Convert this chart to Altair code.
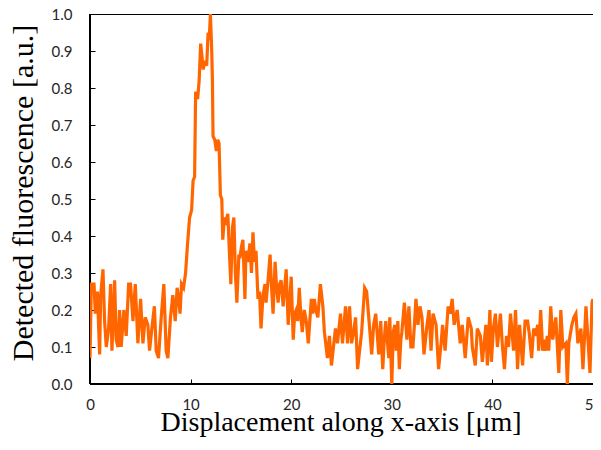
import altair as alt
import pandas as pd

x_um = [0.0, 0.13, 0.4, 0.53, 0.73, 0.96, 1.06, 1.29, 1.45, 1.62, 1.85, 2.05, 2.18, 2.45, 2.6, 2.78, 2.94, 3.1, 3.37, 3.6,
        3.84, 4.03, 4.27, 4.5, 4.76, 5.03, 5.26, 5.49, 5.75, 5.92, 6.15, 6.4, 6.58, 6.81, 7.08, 7.34, 7.57, 7.74, 8.0, 8.23,
        8.47, 8.66, 8.85, 8.95, 9.1, 9.3, 9.5, 9.7, 9.9, 10.1, 10.25, 10.4, 10.5, 10.7, 10.85, 11.0, 11.15, 11.25, 11.4, 11.5,
        11.6, 11.74, 11.85, 11.97, 12.1, 12.17, 12.23, 12.4, 12.56, 12.7, 12.83, 12.96, 13.1, 13.2, 13.35, 13.5, 13.7, 13.85, 14.0, 14.15,
        14.3, 14.45, 14.6, 14.8, 14.9, 15.05, 15.2, 15.4, 15.5, 15.7, 15.9, 16.05, 16.2, 16.35, 16.5, 16.7, 16.85, 17.0, 17.2, 17.4,
        17.5, 17.7, 17.9, 18.05, 18.2, 18.4, 18.55, 18.7, 18.85, 19.0, 19.2, 19.35, 19.5, 19.7, 19.85, 20.0, 20.2, 20.35, 20.5, 20.65,
        20.8, 21.0, 21.1, 21.3, 21.5, 21.7, 21.85, 22.0, 22.15, 22.3, 22.45, 22.65, 22.9, 23.15, 23.3, 23.6, 23.8, 24.0, 24.2, 24.4,
        24.6, 24.9, 25.1, 25.4, 25.6, 25.8, 26.0, 26.2, 26.4, 26.6, 26.8, 27.0, 27.3, 27.5, 27.65, 27.8, 28.0, 28.2, 28.4, 28.7,
        28.9, 29.1, 29.25, 29.4, 29.7, 29.8, 30.0, 30.15, 30.3, 30.45, 30.6, 30.75, 30.9, 31.0, 31.25, 31.5, 31.7, 31.9, 32.1, 32.25,
        32.4, 32.6, 32.8, 33.0, 33.2, 33.5, 33.7, 33.9, 34.1, 34.4, 34.65, 34.9, 35.05, 35.3, 35.6, 35.8, 36.0, 36.2, 36.5, 36.8,
        37.0, 37.3, 37.6, 37.9, 38.0, 38.3, 38.5, 38.8, 39.0, 39.35, 39.5, 39.75, 39.9, 40.1, 40.3, 40.5, 40.8, 41.0, 41.2, 41.4,
        41.6, 41.8, 42.1, 42.3, 42.5, 42.7, 43.0, 43.25, 43.5, 43.65, 43.9, 44.1, 44.3, 44.5, 44.6, 44.8, 45.0, 45.15, 45.3, 45.45,
        45.6, 45.8, 46.0, 46.3, 46.6, 46.8, 47.0, 47.3, 47.45, 47.6, 47.9, 48.1, 48.3, 48.5, 48.8, 49.0, 49.3, 49.5, 49.7, 49.9,
        50.0]

fluorescence = [0.07, 0.27, 0.27, 0.19, 0.25, 0.08, 0.24, 0.31, 0.17, 0.10, 0.15, 0.27, 0.09, 0.28, 0.12, 0.10, 0.20, 0.10, 0.20, 0.13,
                0.27, 0.27, 0.17, 0.27, 0.11, 0.23, 0.11, 0.18, 0.16, 0.09, 0.15, 0.21, 0.09, 0.07, 0.18, 0.27, 0.09, 0.07, 0.18, 0.24,
                0.17, 0.26, 0.22, 0.19, 0.27, 0.26, 0.30, 0.38, 0.45, 0.47, 0.55, 0.56, 0.79, 0.77, 0.82, 0.92, 0.88, 0.85, 0.87, 0.87,
                0.86, 0.95, 0.93, 1.00, 0.90, 0.82, 0.67, 0.66, 0.63, 0.66, 0.65, 0.51, 0.50, 0.39, 0.45, 0.44, 0.46, 0.36, 0.27, 0.42,
                0.45, 0.30, 0.22, 0.35, 0.34, 0.37, 0.39, 0.23, 0.36, 0.33, 0.38, 0.30, 0.41, 0.33, 0.36, 0.23, 0.25, 0.15, 0.24, 0.27,
                0.22, 0.28, 0.35, 0.26, 0.19, 0.33, 0.26, 0.22, 0.27, 0.28, 0.21, 0.26, 0.31, 0.16, 0.22, 0.29, 0.12, 0.19, 0.20, 0.17,
                0.26, 0.17, 0.14, 0.20, 0.17, 0.11, 0.17, 0.23, 0.19, 0.23, 0.20, 0.18, 0.27, 0.21, 0.14, 0.07, 0.13, 0.05, 0.10, 0.15,
                0.11, 0.19, 0.11, 0.21, 0.11, 0.21, 0.11, 0.14, 0.18, 0.04, 0.09, 0.14, 0.26, 0.25, 0.20, 0.15, 0.08, 0.16, 0.19, 0.08,
                0.17, 0.04, 0.12, 0.17, 0.07, 0.18, 0.00, 0.14, 0.16, 0.09, 0.17, 0.04, 0.12, 0.14, 0.22, 0.12, 0.21, 0.10, 0.10, 0.16,
                0.23, 0.16, 0.21, 0.18, 0.08, 0.16, 0.20, 0.09, 0.19, 0.16, 0.04, 0.11, 0.16, 0.09, 0.21, 0.19, 0.23, 0.16, 0.20, 0.11,
                0.16, 0.07, 0.18, 0.15, 0.10, 0.05, 0.15, 0.13, 0.06, 0.16, 0.05, 0.20, 0.06, 0.15, 0.19, 0.10, 0.19, 0.10, 0.04, 0.13,
                0.10, 0.19, 0.09, 0.20, 0.04, 0.16, 0.05, 0.17, 0.17, 0.14, 0.07, 0.15, 0.13, 0.16, 0.09, 0.20, 0.09, 0.12, 0.09, 0.13,
                0.09, 0.21, 0.12, 0.18, 0.03, 0.20, 0.10, 0.11, 0.00, 0.11, 0.16, 0.18, 0.19, 0.11, 0.15, 0.04, 0.21, 0.12, 0.03, 0.22,
                0.23]

x_ticks = [0, 10, 20, 30, 40, 50]
y_ticks = [0.0, 0.1, 0.2, 0.3, 0.4, 0.5, 0.6, 0.7, 0.8, 0.9, 1.0]
x_range = [0, 50]
y_range = [0, 1]

df = pd.DataFrame({"x": x_um, "y": fluorescence})
left_edge = pd.DataFrame({"x": [x_range[0]], "y": [y_range[0]], "y2": [y_range[1]]})
bottom_edge = pd.DataFrame({"x": [x_range[0]], "x2": [x_range[1]], "y": [y_range[0]]})

label_font = "Lato"
title_font = "Liberation Serif"

x_scale = alt.Scale(domain=x_range, nice=False)
y_scale = alt.Scale(domain=y_range, nice=False)

x_axis = alt.Axis(
    values=x_ticks, format="d", title="Displacement along x-axis [μm]",
    domain=False, offset=-5, tickSize=5, tickColor="black", tickWidth=1,
    labelPadding=13, labelFont=label_font, labelFontSize=15, labelColor="#262626",
    labelOverlap=False, labelFlush=False, grid=False,
    titleFont=title_font, titleFontSize=28, titleFontWeight="normal", titleColor="black",
    titleBaseline="alphabetic", titleX=250.5, titleY=51.5,
)
y_axis = alt.Axis(
    values=y_ticks, format=".1f", title="Detected fluorescence [a.u.]",
    domain=False, offset=-5, tickSize=5, tickColor="black", tickWidth=1,
    labelPadding=18, labelFont=label_font, labelFontSize=15, labelColor="#262626",
    labelOverlap=False, labelFlush=False, grid=False,
    titleFont=title_font, titleFontSize=30, titleFontWeight="normal", titleColor="black",
    titleBaseline="alphabetic", titleX=-63, titleY=178.5,
)

X = alt.X("x:Q", scale=x_scale, axis=x_axis)
Y = alt.Y("y:Q", scale=y_scale, axis=y_axis)

left_rule = alt.Chart(left_edge).mark_rule(color="black", strokeWidth=2).encode(x=X, y=Y, y2="y2:Q")
bottom_rule = alt.Chart(bottom_edge).mark_rule(color="black", strokeWidth=2).encode(x=X, x2="x2:Q", y=Y)
line = alt.Chart(df).mark_line(color="#FF6600", strokeWidth=3.2, clip=True).encode(x=X, y=Y)

chart = (
    alt.layer(left_rule, bottom_rule, line)
    .properties(
        width=503, height=370,
        autosize=alt.AutoSizeParams(type="none"),
        padding={"left": 82, "top": 6, "right": 0, "bottom": 53},
        background="white",
    )
    .configure_view(stroke="black", strokeWidth=1)
)

chart.save("out.html", embed_options={"renderer": "svg", "actions": False})
